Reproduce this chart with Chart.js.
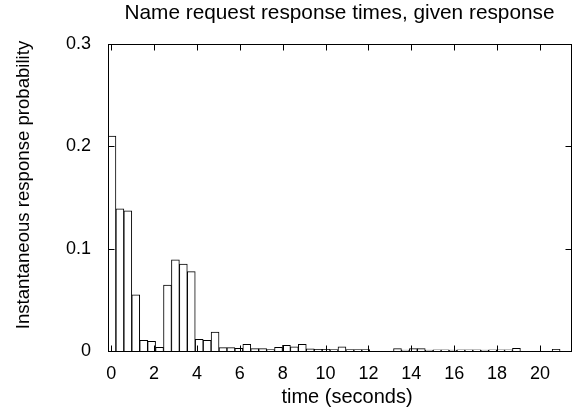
<!DOCTYPE html>
<html>
<head>
<meta charset="utf-8">
<script src="https://cdn.jsdelivr.net/npm/chart.js@4/dist/chart.umd.min.js"></script>
<style>
  html, body { margin: 0; padding: 0; background: #fff; }
  #wrap { width: 585px; height: 418px; }
</style>
</head>
<body>
<div id="wrap"><canvas id="myChart" width="585" height="418"></canvas></div>
<script>
// histogram bins (seconds)
const binStart = -0.15;
const binWidth = 0.37;
const probabilities = [
  0.210, 0.139, 0.137, 0.055, 0.0105, 0.0095, 0.0035, 0.0645, 0.089, 0.085,
  0.0775, 0.0115, 0.0105, 0.0185, 0.0033, 0.0033, 0.0025, 0.0065, 0.0023, 0.0023,
  0.0013, 0.0037, 0.0055, 0.004, 0.0065, 0.002, 0.0016, 0.0016, 0.0013, 0.004,
  0.0015, 0.0015, 0.0015, 0, 0, 0, 0.0023, 0.001, 0.0023, 0.0023,
  0.0008, 0.0012, 0.0012, 0.001, 0.0012, 0.0012, 0.0012, 0.001, 0.0012, 0.0012,
  0.0012, 0.0026, 0, 0, 0, 0, 0.0016, 0
];
const xTicks = [0, 2, 4, 6, 8, 10, 12, 14, 16, 18, 20];
const yTicks = [0, 0.1, 0.2, 0.3];

const chartTitle = 'Name request response times, given response';
const xTitle = 'time (seconds)';
const yTitle = 'Instantaneous response probability';
const fontFamily = '"Liberation Sans", Arial, Helvetica, sans-serif';

let points = probabilities.map((p, k) => ({ x: binStart + binWidth * (k + 0.5), y: p }));

// frame with inward ticks on all four sides, plus the titles
const gnuplotFrame = {
  id: 'gnuplotFrame',
  afterDraw(chart) {
    const ctx = chart.ctx;
    const a = chart.chartArea;
    const x = chart.scales.x, y = chart.scales.y;
    ctx.save();
    ctx.strokeStyle = '#000';
    ctx.lineWidth = 1;
    let l = Math.round(a.left) + 0.5, r = Math.round(a.right) + 0.5;
    let t = Math.round(a.top) + 0.5, b = Math.round(a.bottom) + 0.5;
    ctx.strokeRect(l, t, r - l, b - t);
    ctx.beginPath();
    xTicks.forEach(v => {
      let px = Math.round(x.getPixelForValue(v)) + 0.5;
      ctx.moveTo(px, b); ctx.lineTo(px, b - 6);
      ctx.moveTo(px, t); ctx.lineTo(px, t + 6);
    });
    yTicks.forEach(v => {
      let py = Math.round(y.getPixelForValue(v)) + 0.5;
      ctx.moveTo(l, py); ctx.lineTo(l + 6, py);
      ctx.moveTo(r, py); ctx.lineTo(r - 6, py);
    });
    ctx.stroke();
    ctx.fillStyle = '#000';
    ctx.textAlign = 'center';
    ctx.textBaseline = 'middle';
    ctx.font = '20.8px ' + fontFamily;
    ctx.fillText(chartTitle, (a.left + a.right) / 2, 13);
    ctx.font = '20px ' + fontFamily;
    ctx.fillText(xTitle, 347, 397);
    ctx.translate(24, 185);
    ctx.rotate(-Math.PI / 2);
    ctx.font = '18.6px ' + fontFamily;
    ctx.fillText(yTitle, 0, 0);
    ctx.restore();
  }
};

let ctx = document.getElementById('myChart');
let myChart = new Chart(ctx, {
  type: 'bar',
  data: {
    datasets: [{
      data: points,
      backgroundColor: '#fff',
      borderColor: '#000',
      borderWidth: 1,
      barPercentage: 1,
      categoryPercentage: 1
    }]
  },
  options: {
    responsive: false,
    animation: false,
    layout: { padding: { top: 44, right: 14, left: 0, bottom: 0 } },
    plugins: {
      legend: { display: false },
      tooltip: { enabled: false },
      title: { display: false }
    },
    scales: {
      x: {
        type: 'linear',
        offset: false,
        min: -0.15,
        max: 21.45,
        grid: { display: false, drawTicks: false, offset: false },
        border: { display: false },
        afterBuildTicks: s => { s.ticks = xTicks.map(v => ({ value: v })); },
        afterFit: s => { s.height = 67; },
        ticks: {
          color: '#000',
          font: { family: fontFamily, size: 18 },
          padding: 12,
          maxRotation: 0,
          autoSkip: false
        }
      },
      y: {
        min: 0,
        max: 0.3,
        grid: { display: false, drawTicks: false },
        border: { display: false },
        afterBuildTicks: s => { s.ticks = yTicks.map(v => ({ value: v })); },
        afterFit: s => { s.width = 108; },
        ticks: {
          color: '#000',
          font: { family: fontFamily, size: 18 },
          padding: 17,
          callback: v => v === 0 ? '0' : v.toFixed(1)
        }
      }
    }
  },
  plugins: [gnuplotFrame]
});
</script>
</body>
</html>
